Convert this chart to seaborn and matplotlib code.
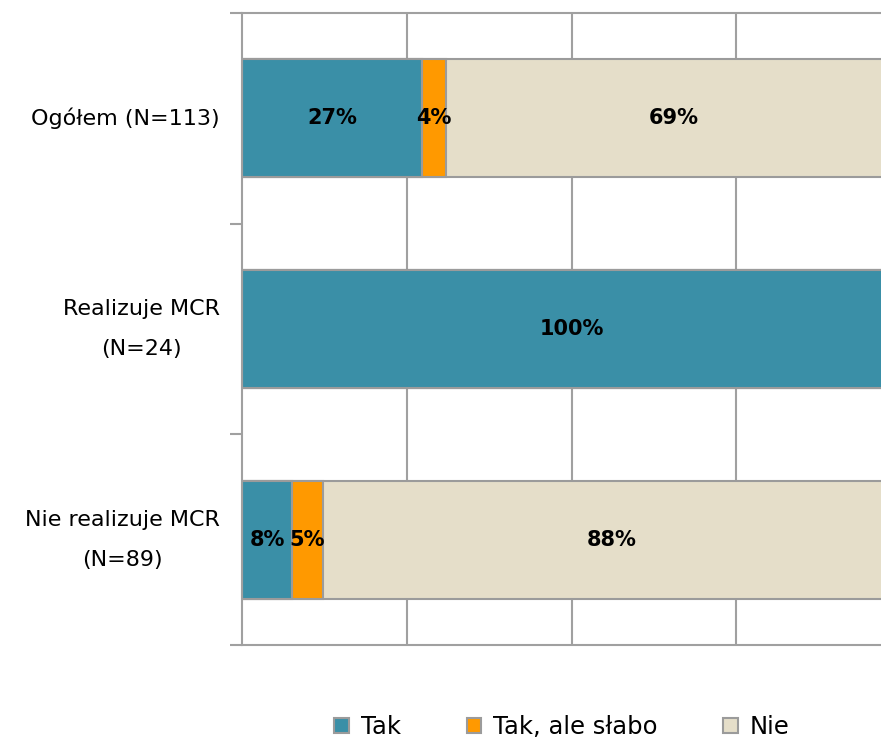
import pandas as pd
import seaborn as sns
import matplotlib.pyplot as plt
from matplotlib.patches import Patch

# Data (percent of respondents)
categories = ["Ogółem (N=113)", "Realizuje MCR\n(N=24)", "Nie realizuje MCR\n(N=89)"]
tak = [27.3, 100.0, 7.6]
tak_slabo = [3.6, 0.0, 4.7]
nie = [69.1, 0.0, 87.7]
series_names = ["Tak", "Tak, ale słabo", "Nie"]
colors = ["#3a8fa7", "#ff9900", "#e5dec9"]
edge = "#9b9b9b"

df = pd.DataFrame({"cat": categories, "Tak": tak, "Tak, ale słabo": tak_slabo, "Nie": nie})
cum = df[series_names].cumsum(axis=1)

sns.set_theme(style="white")
plt.rcParams["font.family"] = ["DejaVu Sans"]
plt.rcParams["text.color"] = "black"
plt.rcParams["ytick.labelcolor"] = "black"

fig = plt.figure(figsize=(8.81, 7.41), dpi=100)
# plot area runs past the right edge (chart is cropped there)
ax = fig.add_axes([242 / 881, 1 - 645 / 741, 659 / 881, (645 - 13) / 741])

# stacked bars drawn as layered cumulative bars (widest first)
for name, color in reversed(list(zip(series_names, colors))):
    sns.barplot(data=cum.assign(cat=df["cat"]), x=name, y="cat", order=categories,
                orient="h", color=color, saturation=1, width=0.56,
                edgecolor=edge, linewidth=1.5, ax=ax)

# value labels centred in each segment
for i, row in df.iterrows():
    left = 0.0
    for name in series_names:
        v = row[name]
        if v > 0:
            ax.text(left + v / 2, i, f"{v:.0f}%", ha="center", va="center",
                    fontsize=15, fontweight="bold", color="black")
        left += v

ax.set_xlim(0, 100)
ax.set_ylim(2.5, -0.5)
ax.set_xlabel("")
ax.set_ylabel("")
ax.set_xticks([25, 50, 75])
ax.set_xticklabels([])
ax.tick_params(axis="x", length=0)
ax.grid(axis="x", color="#a0a0a0", linewidth=1.5)
ax.set_axisbelow(True)

ax.set_yticks([0, 1, 2])
ax.set_yticklabels(categories, fontsize=16, multialignment="center",
                   linespacing=2.25, color="black", va="center")
ax.set_yticks([-0.5, 0.5, 1.5, 2.5], minor=True)
ax.tick_params(axis="y", which="major", length=0, pad=16)
ax.tick_params(axis="y", which="minor", length=9, width=1.5, color="#a0a0a0", left=True)

for side in ["left", "top", "bottom"]:
    ax.spines[side].set_color("#a0a0a0")
    ax.spines[side].set_linewidth(1.5)
ax.spines["right"].set_visible(False)

handles = [Patch(facecolor=c, edgecolor=edge, linewidth=1.5) for c in colors]
fig.legend(handles, series_names, loc="center", bbox_to_anchor=(562 / 881, 1 - 727 / 741),
           ncol=3, frameon=False, fontsize=17.5, handlelength=0.6, handleheight=0.6,
           handletextpad=0.5, columnspacing=2.7, labelcolor="black")

fig.savefig("out.png", dpi=100)
